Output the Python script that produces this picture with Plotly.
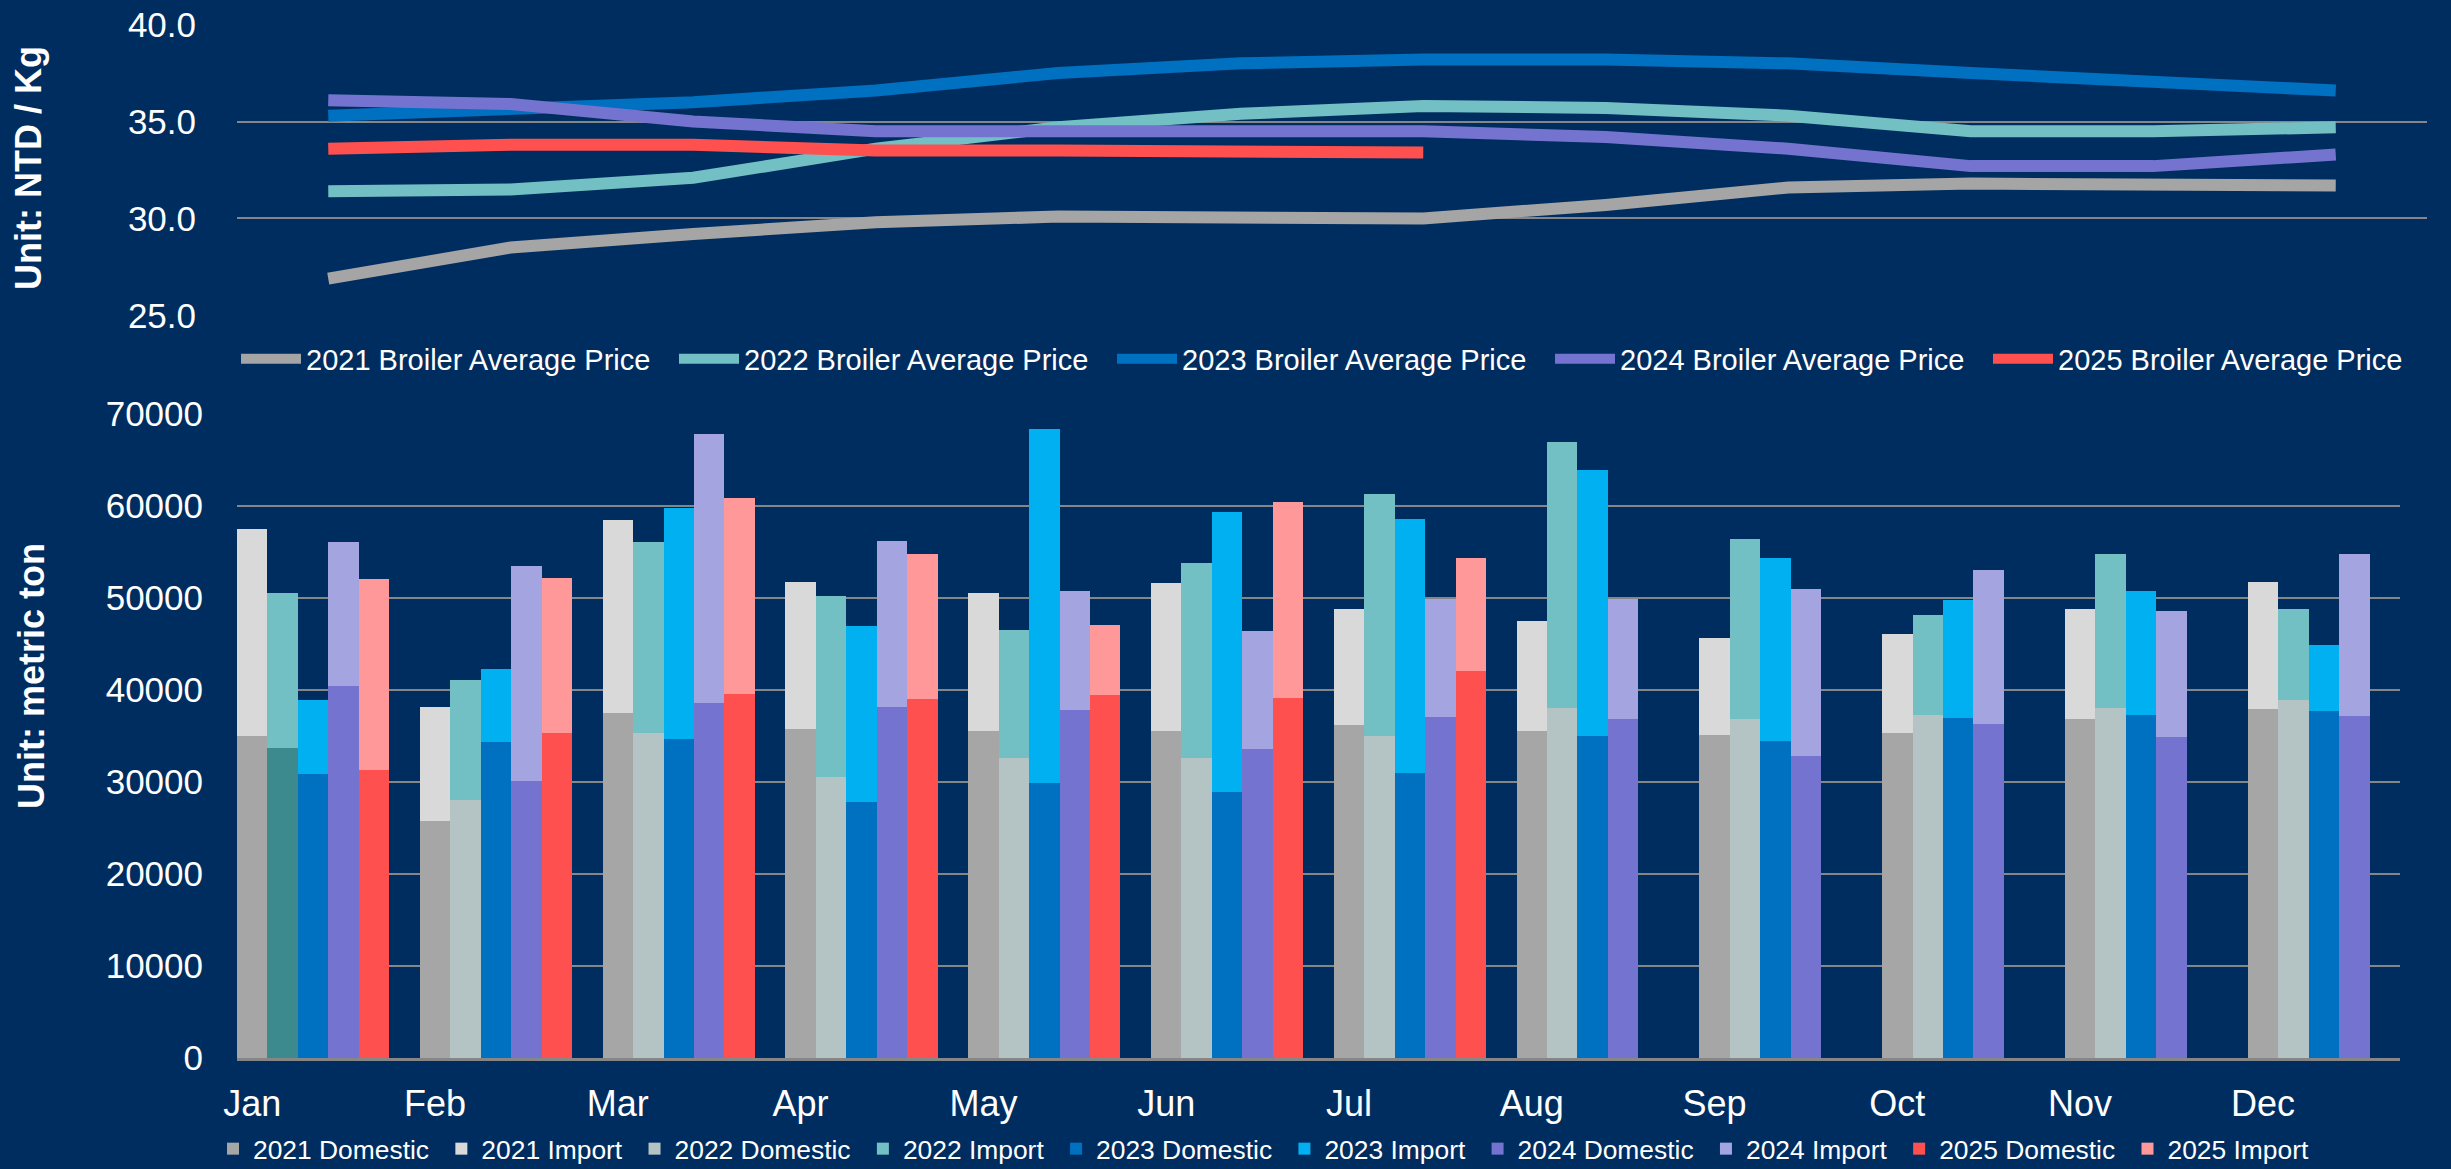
import plotly.graph_objects as go

W, H = 2451, 1169
BG = "#002D5F"
FONT = "Liberation Sans, Arial, sans-serif"

months = ["Jan", "Feb", "Mar", "Apr", "May", "Jun", "Jul", "Aug", "Sep", "Oct", "Nov", "Dec"]
years = ["2021", "2022", "2023", "2024", "2025"]

# Broiler average price (NTD / Kg)
price_2021 = [26.9, 28.5, 29.2, 29.8, 30.1, 30.0, 30.0, 30.7, 31.6, 31.8, 31.7, 31.7]
price_2022 = [31.4, 31.5, 32.1, 33.6, 34.7, 35.4, 35.8, 35.7, 35.3, 34.5, 34.5, 34.7]
price_2023 = [35.3, 35.6, 36.0, 36.6, 37.5, 38.0, 38.2, 38.2, 38.0, 37.5, 37.0, 36.6]
price_2024 = [36.1, 35.9, 35.0, 34.5, 34.5, 34.5, 34.5, 34.2, 33.6, 32.7, 32.7, 33.3]
price_2025 = [33.6, 33.8, 33.8, 33.5, 33.5, 33.5, 33.4]

# Supply (metric ton)
domestic_2021 = [35000, 25700, 37500, 35700, 35500, 35550, 36150, 35500, 35050, 35250, 36800, 37850]
import_2021 = [22450, 12450, 20900, 16000, 15050, 16050, 12650, 12000, 10600, 10800, 11950, 13850]
domestic_2022 = [33700, 28000, 35350, 30550, 32550, 32550, 34950, 38050, 36850, 37200, 38050, 38900]
import_2022 = [16750, 13100, 20700, 19650, 13900, 21250, 26300, 28850, 19500, 10950, 16650, 9900]
domestic_2023 = [30850, 34300, 34600, 27800, 29850, 28850, 30950, 34950, 34400, 36900, 37250, 37700]
import_2023 = [8050, 7950, 25150, 19100, 38500, 30400, 27600, 28950, 19900, 12850, 13450, 7200]
domestic_2024 = [40400, 30100, 38550, 38150, 37800, 33550, 37050, 36800, 32800, 36250, 34850, 37150]
import_2024 = [15600, 23350, 29200, 18000, 12950, 12800, 12800, 13100, 18100, 16750, 13750, 17600]
domestic_2025 = [31250, 35300, 39500, 38950, 39400, 39150, 42000]
import_2025 = [20750, 16850, 21300, 15750, 7600, 21200, 12350]

prices = [price_2021, price_2022, price_2023, price_2024, price_2025]
domestics = [domestic_2021, domestic_2022, domestic_2023, domestic_2024, domestic_2025]
imports = [import_2021, import_2022, import_2023, import_2024, import_2025]

line_colors = ["#A5A5A5", "#72BFC4", "#0070C0", "#7474D0", "#FF5050"]
dom_colors = ["#A6A6A6", "#B4C4C4", "#0070C0", "#7474D0", "#FF5050"]
imp_colors = ["#D9D9D9", "#72BFC4", "#00B0F0", "#A4A4E0", "#FF9999"]
highlight_2022_jan = "#3D8A8E"

NBSP = "\u00a0"

fig = go.Figure()

# ---- price lines (top panel)
for yr, p, c in zip(years, prices, line_colors):
    fig.add_trace(go.Scatter(
        x=months[:len(p)], y=p, mode="lines", name=f"{yr} Broiler Average Price",
        line=dict(color=c, width=12), xaxis="x", yaxis="y", legend="legend",
    ))

# ---- stacked bars (bottom panel), 6 slots per month
SLOTS = 6
for j, yr in enumerate(years):
    xs = [m * SLOTS + j for m in range(len(domestics[j]))]
    dcol = [dom_colors[j]] * len(xs)
    if yr == "2022":
        dcol[0] = highlight_2022_jan
    # reversed so the legend swatch takes the series colour
    fig.add_trace(go.Bar(
        x=xs[::-1], y=domestics[j][::-1], name=f"{yr} Domestic" + NBSP, width=1,
        marker=dict(color=dcol[::-1], line=dict(width=0)),
        xaxis="x2", yaxis="y2", legend="legend2",
    ))
    fig.add_trace(go.Bar(
        x=xs, y=imports[j], name=f"{yr} Import" + NBSP, width=1,
        marker=dict(color=imp_colors[j], line=dict(width=0)),
        xaxis="x2", yaxis="y2", legend="legend2",
    ))

grid = "#868686"
tickfont = dict(family=FONT, size=35, color="white")

fig.update_layout(
    width=W, height=H, autosize=False,
    paper_bgcolor=BG, plot_bgcolor=BG,
    margin=dict(l=0, r=0, t=0, b=0, pad=0, autoexpand=False),
    barmode="stack", bargap=0,
    font=dict(family=FONT, color="white"),
    xaxis=dict(domain=[237 / W, 2427 / W], anchor="y", type="category",
               range=[-0.5, 11.5], showticklabels=False, showgrid=False,
               zeroline=False, showline=False, automargin=False),
    yaxis=dict(domain=[1 - 316 / H, 1 - 24 / H], anchor="x",
               range=[24.97, 40.03], tick0=25, dtick=5, tickformat=".1f",
               showgrid=True, gridcolor=grid, gridwidth=2, zeroline=False,
               tickfont=tickfont, ticklabelstandoff=40, automargin=False),
    xaxis2=dict(domain=[237 / W, 2400 / W], anchor="y2",
                range=[-0.5, 70.5], tickvals=[m * SLOTS for m in range(12)],
                ticktext=months, showgrid=False, zeroline=False,
                showline=True, linecolor=grid, linewidth=3,
                tickfont=dict(family=FONT, size=36, color="white"),
                ticklabelstandoff=12, automargin=False),
    yaxis2=dict(domain=[1 - 1058 / H, 1 - 413 / H], anchor="x2",
                range=[0, 70050], dtick=10000, tickformat="d",
                showgrid=True, gridcolor=grid, gridwidth=2, zeroline=False,
                tickfont=tickfont, ticklabelstandoff=33, automargin=False),
    legend=dict(orientation="h", x=236 / W, xanchor="left",
                y=1 - 359 / H, yanchor="middle", itemwidth=60,
                font=dict(family=FONT, size=29, color="white"),
                bgcolor="rgba(0,0,0,0)", entrywidth=363, entrywidthmode="pixels",
                traceorder="normal"),
    legend2=dict(orientation="h", x=213 / W, xanchor="left",
                 y=-4 / H, yanchor="bottom",
                 font=dict(family=FONT, size=26.4, color="white"),
                 bgcolor="rgba(0,0,0,0)", traceorder="normal"),
    annotations=[
        dict(text="<b>Unit: NTD / Kg</b>", x=28 / W, y=1 - 168 / H,
             xref="paper", yref="paper", textangle=-90, showarrow=False,
             font=dict(family=FONT, size=36, color="white"),
             xanchor="center", yanchor="middle"),
        dict(text="<b>Unit: metric ton</b>", x=31 / W, y=1 - 676 / H,
             xref="paper", yref="paper", textangle=-90, showarrow=False,
             font=dict(family=FONT, size=36, color="white"),
             xanchor="center", yanchor="middle"),
    ],
    showlegend=True,
)

fig.write_html("out.html", config={"displayModeBar": False},
               post_script="document.body.style.margin='0';document.body.style.background='%s';" % BG)
